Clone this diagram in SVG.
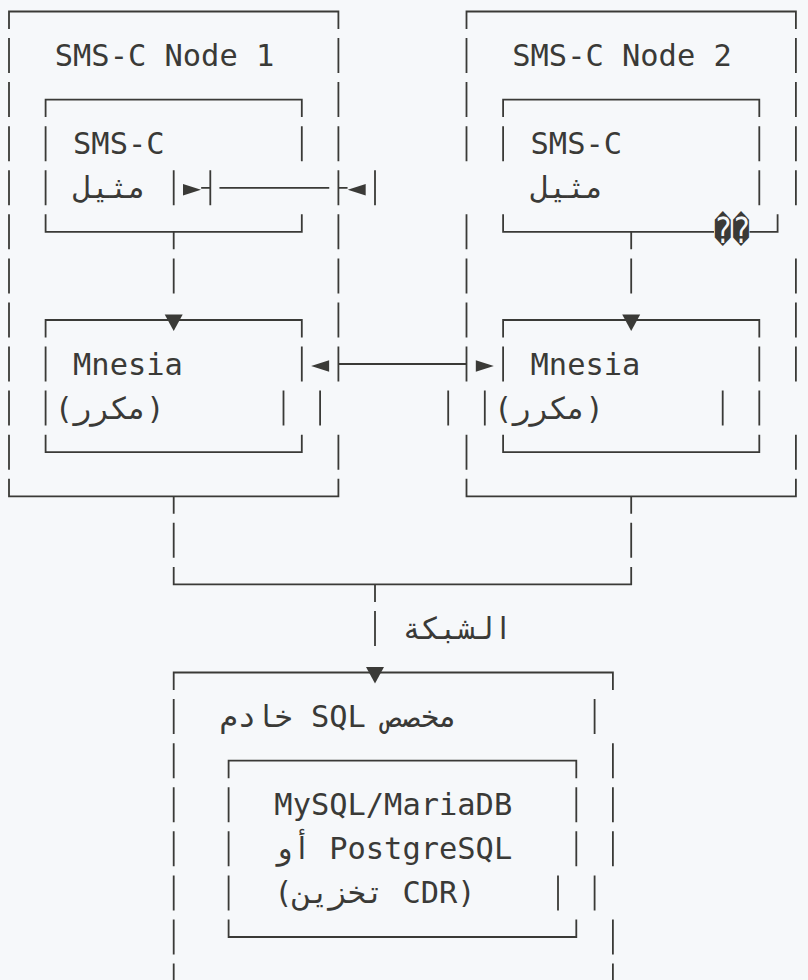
<svg xmlns="http://www.w3.org/2000/svg" width="808" height="980" viewBox="0 0 808 980">
<style>
.ln{fill:none;stroke:#3a3a37;stroke-width:1.8}
.tx{font-family:"DejaVu Sans Mono","Liberation Mono",monospace;font-size:30.4px;fill:#3a3a37}
.rep{font-family:"DejaVu Sans Mono","DejaVu Sans",monospace;font-size:36px;fill:#3a3a37}
.ar{fill:#3a3a37}
</style>
<defs>
<polygon id="dn" points="-9,-5.5 9,-5.5 0,11"/>
<polygon id="rt" points="-9,-3.8 9,2 -9,7.8"/>
<polygon id="lt" points="9,-3.8 -9,2 9,7.8"/>
</defs>
<rect width="808" height="980" fill="#f6f8fa"/>

<g id="node1">
<path class="ln" d="M9,29 V11.5 H338.4 V29 M9,38 V73 M9,82.1 V117.1 M9,126.2 V161.2 M9,170.3 V205.3 M9,214.3 V249.3 M9,258.4 V293.4 M9,302.5 V337.5 M9,346.5 V381.5 M9,390.6 V425.6 M9,434.7 V469.7 M9,478.8 V496.3 H338.4 V478.8 M338.4,38 V73 M338.4,82.1 V117.1 M338.4,126.2 V161.2 M338.4,170.3 V205.3 M338.4,214.3 V249.3 M338.4,258.4 V293.4 M338.4,302.5 V337.5 M338.4,346.5 V381.5 M320.1,390.6 V425.6 M338.4,434.7 V469.7"/>
<text class="tx" x="54.75" y="66">SMS-C Node 1</text>
</g>

<g id="node1-instance">
<path class="ln" d="M45.6,117.1 V99.6 H301.8 V117.1 M45.6,126.2 V161.2 M301.8,126.2 V161.2 M45.6,170.3 V205.3 M173.7,170.3 V205.3 M45.6,214.3 V231.8 H301.8 V214.3"/>
<text class="tx" x="73.05" y="154.2">SMS-C</text>
<text class="tx" x="73.05" y="198.3">مثيل</text>
</g>

<g id="node1-mnesia">
<path class="ln" d="M45.6,337.5 V320 H301.8 V337.5 M45.6,346.5 V381.5 M301.8,346.5 V381.5 M45.6,390.6 V425.6 M283.5,390.6 V425.6 M45.6,434.7 V452.2 H301.8 V434.7"/>
<text class="tx" x="73.05" y="374.5">Mnesia</text>
<text class="tx" x="54.75" y="418.6">(مكرر)</text>
</g>

<g id="node2">
<path class="ln" d="M466.5,29 V11.5 H795.9 V29 M466.5,38 V73 M466.5,82.1 V117.1 M466.5,126.2 V161.2 M466.5,214.3 V249.3 M466.5,258.4 V293.4 M466.5,302.5 V337.5 M466.5,346.5 V381.5 M448.2,390.6 V425.6 M466.5,434.7 V469.7 M466.5,478.8 V496.3 H795.9 V478.8 M795.9,38 V73 M795.9,82.1 V117.1 M795.9,126.2 V161.2 M795.9,170.3 V205.3 M795.9,258.4 V293.4 M795.9,302.5 V337.5 M795.9,346.5 V381.5 M759.3,390.6 V425.6 M795.9,434.7 V469.7"/>
<text class="tx" x="512.25" y="66">SMS-C Node 2</text>
</g>

<g id="node2-instance">
<path class="ln" d="M503.1,117.1 V99.6 H759.3 V117.1 M503.1,126.2 V161.2 M759.3,126.2 V161.2 M759.3,170.3 V205.3 M503.1,214.3 V231.8 H714 M749.5,231.8 H777.6 V214.3"/>
<text class="tx" x="530.55" y="154.2">SMS-C</text>
<text class="tx" x="530.55" y="198.3">مثيل</text>
<text class="rep" x="713.5" y="243" textLength="36.6" lengthAdjust="spacingAndGlyphs">��</text>
</g>

<g id="node2-mnesia">
<path class="ln" d="M503.1,337.5 V320 H759.3 V337.5 M503.1,346.5 V381.5 M759.3,346.5 V381.5 M484.8,390.6 V425.6 M722.7,390.6 V425.6 M503.1,434.7 V452.2 H759.3 V434.7"/>
<text class="tx" x="530.55" y="374.5">Mnesia</text>
<text class="tx" x="493.95" y="418.6">(مكرر)</text>
</g>

<g id="sql-server">
<path class="ln" d="M173.7,690 V672.5 H612.9 V690 M173.7,699.1 V734.1 M173.7,743.2 V778.2 M173.7,787.3 V822.3 M173.7,831.3 V866.3 M173.7,875.4 V910.4 M173.7,919.5 V954.5 M173.7,963.5 V998.5 M594.6,699.1 V734.1 M612.9,743.2 V778.2 M612.9,787.3 V822.3 M612.9,831.3 V866.3 M594.6,875.4 V910.4 M612.9,919.5 V954.5 M612.9,963.5 V998.5"/>
<text class="tx" x="219.45" y="727.1">خادم SQL مخصص</text>
</g>

<g id="sql-database">
<path class="ln" d="M228.6,778.2 V760.7 H576.3 V778.2 M228.6,787.3 V822.3 M576.3,787.3 V822.3 M228.6,831.3 V866.3 M576.3,831.3 V866.3 M228.6,875.4 V910.4 M558,875.4 V910.4 M228.6,919.5 V937 H576.3 V919.5"/>
<text class="tx" x="274.35" y="815.3">MySQL/MariaDB</text>
<text class="tx" x="274.35" y="859.3">أو PostgreSQL</text>
<text class="tx" x="274.35" y="903.4">(تخزين CDR)</text>
</g>

<g id="connectors">
<path class="ln" d="M173.7,231.8 V249.3 M173.7,258.4 V293.4 M631.2,231.8 V249.3 M631.2,258.4 V293.4 M210.3,170.3 V205.3 M201.15,187.8 H210.3 M219.45,187.8 H329.25 M338.4,187.8 H347.55 M375,170.3 V205.3 M338.4,364 H466.5 M173.7,496.3 V513.8 M173.7,522.8 V557.8 M173.7,566.9 V584.4 H631.2 V566.9 M631.2,522.8 V557.8 M631.2,496.3 V513.8 M375,584.4 V601.9 M375,611 V646"/>
<use href="#dn" class="ar" x="173.7" y="320"/>
<use href="#dn" class="ar" x="631.2" y="320"/>
<use href="#rt" class="ar" x="192" y="187.8"/>
<use href="#lt" class="ar" x="356.7" y="187.8"/>
<use href="#lt" class="ar" x="320.1" y="364"/>
<use href="#rt" class="ar" x="484.8" y="364"/>
<use href="#dn" class="ar" x="375" y="672.5"/>
<text class="tx" x="402.45" y="639">الشبكة</text>
</g>
</svg>
